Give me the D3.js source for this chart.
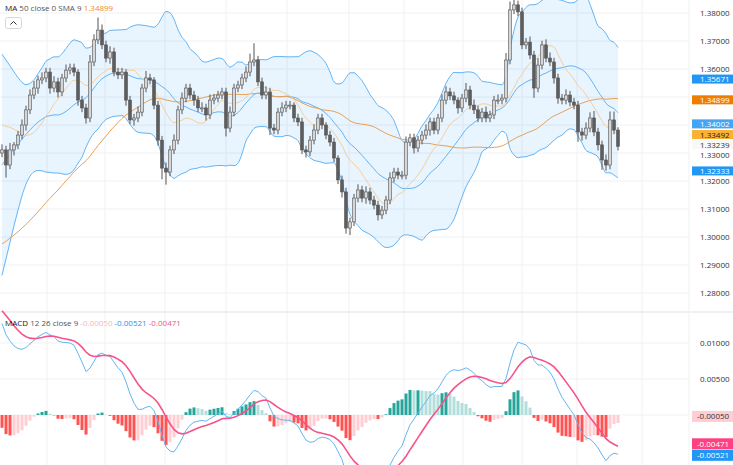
<!DOCTYPE html>
<html><head><meta charset="utf-8">
<script src="https://cdnjs.cloudflare.com/ajax/libs/d3/7.8.5/d3.min.js"></script>
<style>body{margin:0;background:#fff;font-family:"Open Sans",sans-serif}</style></head>
<body><svg id="c" width="733" height="465"></svg>
<script>
// hidden warm-up closes (before the visible range), used only for indicators
const warmCloses=[1.2760,1.2775,1.2750,1.2790,1.2770,1.2745,1.2780,1.2800,1.2770,1.2790,1.2765,1.2740,1.2770,1.2795,1.2780,1.2760,1.2785,1.2810,1.2790,1.2770,
1.2795,1.2815,1.2790,1.2770,1.2800,1.2820,1.2800,1.2780,1.2810,1.2830,
1.2850,1.2880,1.2920,1.2960,1.3010,1.3060,1.3120,1.3180,1.3240,1.3300,1.3360,1.3410,1.3460,1.3500,1.3520,1.3480,1.3430,1.3380,1.3340,1.3300];
// visible closes
const closes=[1.3311,1.3257,1.3311,1.3329,1.3364,1.3400,1.3454,1.3507,1.3532,1.3561,1.3568,1.3589,1.3532,1.3554,1.3518,1.3568,1.3596,1.3604,1.3589,1.3489,
1.3461,1.3425,1.3625,1.3704,1.3739,1.3686,1.3639,1.3661,1.3589,1.3579,1.3589,1.3489,1.3418,1.3425,1.3446,1.3532,1.3568,1.3561,1.3471,1.3346,
1.3246,1.3232,1.3311,1.3346,1.3454,1.3496,1.3532,1.3507,1.3489,1.3461,1.3461,1.3436,1.3489,1.3496,1.3507,1.3518,1.3389,1.3446,1.3532,1.3543,
1.3568,1.3589,1.3625,1.3632,1.3554,1.3507,1.3518,1.3389,1.3382,1.3446,1.3461,1.3471,1.3471,1.3425,1.3411,1.3311,1.3304,1.3346,1.3382,1.3425,
1.3400,1.3364,1.3339,1.3282,1.3204,1.3161,1.3032,1.3054,1.3139,1.3168,1.3139,1.3161,1.3132,1.3114,1.3079,1.3096,1.3132,1.3211,1.3232,1.3221,
1.3221,1.3339,1.3354,1.3318,1.3346,1.3364,1.3382,1.3411,1.3382,1.3425,1.3489,1.3518,1.3504,1.3489,1.3461,1.3496,1.3525,1.3471,1.3454,1.3425,
1.3446,1.3425,1.3436,1.3489,1.3489,1.3496,1.3632,1.3811,1.3829,1.3804,1.3686,1.3696,1.3650,1.3532,1.3614,1.3686,1.3639,1.3625,1.3568,1.3496,
1.3489,1.3507,1.3482,1.3471,1.3375,1.3364,1.3389,1.3425,1.3375,1.3329,1.3275,1.3257,1.3418,1.3382,1.3324];
// wick lengths (in 0.0001)
const upWick=[20,15,25,10,15,20,15,20,25,15,20,15,15,20,15,15,20,15,15,10,15,15,25,20,45,20,15,20,15,15,15,10,15,15,20,15,25,15,10,15,
15,20,15,20,15,20,15,15,15,15,20,15,20,15,15,15,15,20,15,15,15,20,30,60,15,15,20,15,15,15,20,15,15,10,15,15,15,15,20,15,
15,10,15,15,10,15,15,15,15,20,15,20,15,15,15,15,15,20,15,15,15,20,15,15,15,15,20,15,15,15,20,20,15,15,10,15,25,15,20,15,
15,20,15,15,20,15,25,30,20,15,15,15,20,15,25,15,20,20,15,15,15,20,15,15,15,15,20,20,25,15,15,20,30,30,10];
const dnWick=[15,45,15,20,15,15,20,15,15,20,15,15,20,15,20,15,15,15,15,20,15,20,15,15,15,15,15,20,15,15,15,20,15,20,15,15,15,15,15,20,
40,45,15,15,15,15,15,15,20,15,15,20,15,15,15,15,30,15,15,15,15,15,15,15,15,15,15,25,15,15,15,15,15,15,15,15,20,15,15,15,
15,15,15,15,15,20,20,25,15,15,15,20,15,15,20,15,15,15,15,15,15,15,15,20,15,15,15,20,15,15,15,15,15,15,20,15,15,15,15,15,
15,15,15,15,15,15,15,15,15,15,15,15,15,35,15,15,15,15,20,20,15,15,15,15,35,20,15,15,15,20,35,20,15,15,15];
const priceTicks=[1.28,1.29,1.30,1.31,1.32,1.33,1.34,1.35,1.36,1.37,1.38];
const macdTicks=[0.005,0.01];
const priceTags=[{v:1.35671,d:1.35640,bg:"#2196f3",fg:"#fff"},{v:1.34899,d:1.34899,bg:"#ef7d00",fg:"#fff"},{v:1.34002,d:1.3404,bg:"#42a5f5",fg:"#fff"},{v:1.33492,d:1.3366,bg:"#f9b233",fg:"#222"},{v:1.33239,d:1.3330,bg:"#f8f8f8",fg:"#333"},{v:1.32333,d:1.32360,bg:"#2196f3",fg:"#fff"}];
const macdTags=[{t:"-0.00050",y:-0.0002,bg:"#ffcdd2",fg:"#333"},{t:"-0.00471",y:-0.0040,bg:"#ff4081",fg:"#fff"},{t:"-0.00521",y:-0.0056,bg:"#2196f3",fg:"#fff"}];
const gridX=[47,105,165,226,287,349,404,463,522,577,642];

const all=warmCloses.concat(closes), W=warmCloses.length, N=closes.length;
function sma(a,n){return a.map((d,i)=>i<n-1?null:d3.mean(a.slice(i-n+1,i+1)));}
function ema(a,n){const k=2/(n+1);let r=[];a.forEach((d,i)=>r.push(i?d*k+r[i-1]*(1-k):d));return r;}
const ma50=sma(all,50), sma9=sma(all,12);
const mid=sma(all,20), sd=all.map((d,i)=>i<19?null:d3.deviation(all.slice(i-19,i+1))*Math.sqrt(19/20));
const e12=ema(all,12),e26=ema(all,26),macd=e12.map((d,i)=>d-e26[i]),sig=ema(macd,9);

const svg=d3.select("#c");
const x=d3.scaleLinear().domain([0,N-1]).range([2,618]);
const y=d3.scaleLinear().domain([1.28,1.38]).range([293,13]);
const ym=d3.scaleLinear().domain([0,0.01]).range([415,343]);
svg.append("clipPath").attr("id","cm").append("rect").attr("x",0).attr("y",0).attr("width",689).attr("height",311);
svg.append("g").selectAll("line").data(gridX).join("line").attr("x1",d=>d).attr("x2",d=>d).attr("y1",0).attr("y2",465).attr("stroke","#f0f1f3");
svg.append("g").selectAll("line").data(priceTicks).join("line").attr("x1",0).attr("x2",689).attr("y1",d=>y(d)).attr("y2",d=>y(d)).attr("stroke","#f0f1f3");
svg.append("g").selectAll("line").data(macdTicks.concat([0])).join("line").attr("x1",0).attr("x2",689).attr("y1",d=>ym(d)).attr("y2",d=>ym(d)).attr("stroke","#f0f1f3");
svg.append("line").attr("x1",0).attr("x2",733).attr("y1",312).attr("y2",312).attr("stroke","#e0e3eb");
svg.append("line").attr("x1",689).attr("x2",689).attr("y1",0).attr("y2",465).attr("stroke","#f0f1f3");
const main=svg.append("g").attr("clip-path","url(#cm)");
const idx=d3.range(N);
const up=i=>mid[W+i]+2*sd[W+i], lo=i=>mid[W+i]-2*sd[W+i];
main.append("path").datum(idx).attr("fill","rgba(33,150,243,0.1)").attr("d",d3.area().x(i=>x(i)).y0(i=>y(lo(i))).y1(i=>y(up(i))).curve(d3.curveMonotoneX));
[[up,"#64b5f6"],[i=>mid[W+i],"#64b5f6"],[lo,"#64b5f6"],[i=>ma50[W+i],"#e9a25a"],[i=>sma9[W+i],"#f6cf9c"]].forEach(([f,c])=>
 main.append("path").datum(idx).attr("fill","none").attr("stroke",c).attr("stroke-width",1).attr("d",d3.line().x(i=>x(i)).y(i=>y(f(i))).curve(d3.curveMonotoneX)));
const cg=main.append("g");
idx.forEach(i=>{const o=all[W+i-1],c=closes[i],hi=Math.max(o,c)+upWick[i]/1e4,lw=Math.min(o,c)-dnWick[i]/1e4,u=c>=o;
 cg.append("line").attr("x1",x(i)).attr("x2",x(i)).attr("y1",y(hi)).attr("y2",y(lw)).attr("stroke","#555");
 cg.append("rect").attr("x",x(i)-1.5).attr("width",3).attr("y",y(Math.max(o,c))).attr("height",Math.max(1,Math.abs(y(o)-y(c))))
  .attr("fill",u?"#d6d6d6":"#5d5d5d").attr("stroke","#555").attr("stroke-width",0.6);});
const mg=svg.append("g");
idx.forEach(i=>{const h=macd[W+i]-sig[W+i],hp=macd[W+i-1]-sig[W+i-1];
 const col=h>=0?(h>=hp?"#26a69a":"#b2dfdb"):(h<hp?"#ff5252":"#ffcdd2");
 mg.append("rect").attr("x",x(i)-1.5).attr("width",3).attr("y",Math.min(ym(h),ym(0))).attr("height",Math.abs(ym(h)-ym(0))).attr("fill",col);});
mg.append("path").datum(idx).attr("fill","none").attr("stroke","#64b5f6").attr("d",d3.line().x(i=>x(i)).y(i=>ym(macd[W+i])));
mg.append("path").datum(idx).attr("fill","none").attr("stroke","#f7528a").attr("stroke-width",1.6).attr("d",d3.line().x(i=>x(i)).y(i=>ym(sig[W+i])));
const shown=priceTicks.filter(t=>!priceTags.some(g=>Math.abs(y(g.d)-y(t))<6));
svg.append("g").selectAll("text").data(shown).join("text").attr("x",700).attr("y",d=>y(d)+(d===1.33?5:3)).attr("font-size",8).attr("fill","#333").text(d=>d.toFixed(5));
svg.append("g").selectAll("text").data(macdTicks).join("text").attr("x",700).attr("y",d=>ym(d)+3).attr("font-size",8).attr("fill","#333").text(d=>d.toFixed(5));
priceTags.forEach(t=>{const g=svg.append("g");g.append("rect").attr("x",692).attr("y",y(t.d)-4.5).attr("width",41).attr("height",9).attr("fill",t.bg);
 g.append("text").attr("x",700).attr("y",y(t.d)+3).attr("font-size",8).attr("fill",t.fg).text(t.v.toFixed(5));});
macdTags.forEach(t=>{const g=svg.append("g");g.append("rect").attr("x",692).attr("y",ym(t.y)-5.5).attr("width",41).attr("height",11).attr("fill",t.bg);
 g.append("text").attr("x",697).attr("y",ym(t.y)+3).attr("font-size",8).attr("fill",t.fg).text(t.t);});
const l1=svg.append("text").attr("x",5).attr("y",11).attr("font-size",8);
l1.append("tspan").attr("fill","#131722").text("MA");l1.append("tspan").attr("fill","#555").text(" 50 close 0 SMA 9  ");l1.append("tspan").attr("fill","#ef8c1a").text(" 1.34899");
svg.append("rect").attr("x",5.5).attr("y",17.5).attr("width",16).attr("height",11).attr("rx",2).attr("fill","#fff").attr("stroke","#d6d8dd");
svg.append("path").attr("d","M10.5 24.5 L13.5 21.5 L16.5 24.5").attr("fill","none").attr("stroke","#333");
const l2=svg.append("text").attr("x",5).attr("y",326).attr("font-size",8);
l2.append("tspan").attr("fill","#131722").text("MACD");l2.append("tspan").attr("fill","#555").text(" 12 26 close 9  ");
l2.append("tspan").attr("fill","#f8b8c0").text("-0.00050  ");l2.append("tspan").attr("fill","#2196f3").text("-0.00521  ");l2.append("tspan").attr("fill","#f7528a").text("-0.00471");
</script></body></html>
